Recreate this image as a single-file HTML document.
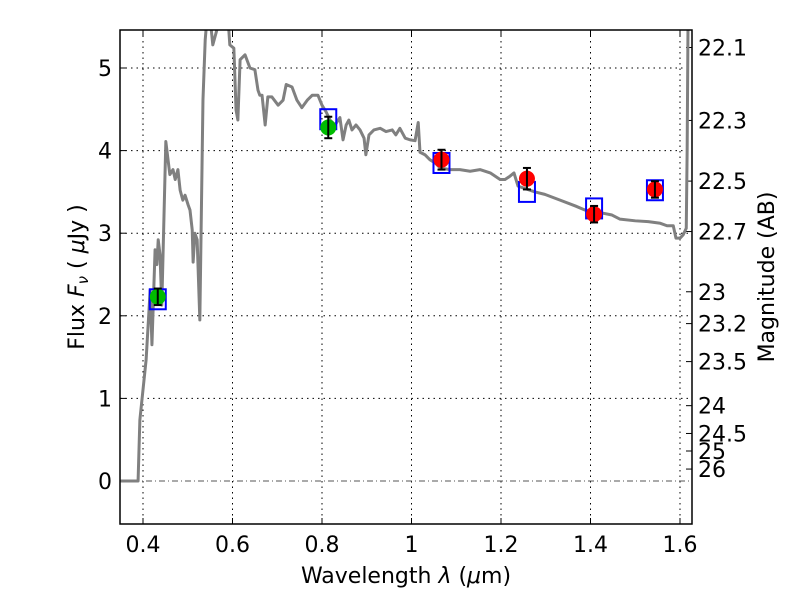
<!DOCTYPE html>
<html><head><meta charset="utf-8">
<style>html,body{margin:0;padding:0;background:#fff}svg{display:block;font-family:"DejaVu Sans","Liberation Sans",sans-serif}</style>
</head><body>
<svg id="chart" width="800" height="600"></svg>
<script>
const xTicks=[0.4,0.6,0.8,1.0,1.2,1.4,1.6];
const xTickLabels=["0.4","0.6","0.8","1","1.2","1.4","1.6"];
const yTicks=[0,1,2,3,4,5];
const magTicks=[22.1,22.3,22.5,22.7,23,23.2,23.5,24,24.5,25,26];
const sedLam=[0.35,0.389,0.393,0.407,0.416,0.420,0.427,0.431,0.434,0.438,0.442,0.451,0.460,0.467,0.472,0.478,0.483,0.489,0.494,0.501,0.505,0.510,0.512,0.516,0.521,0.527,0.534,0.539,0.543,0.550,0.556,0.572,0.590,0.594,0.603,0.608,0.612,0.617,0.628,0.639,0.650,0.657,0.661,0.666,0.673,0.679,0.688,0.702,0.713,0.720,0.733,0.744,0.755,0.767,0.778,0.791,0.800,0.809,0.818,0.829,0.840,0.847,0.854,0.860,0.867,0.876,0.885,0.894,0.898,0.905,0.916,0.930,0.943,0.957,0.965,0.974,0.986,0.997,1.008,1.015,1.019,1.030,1.041,1.053,1.064,1.086,1.108,1.131,1.153,1.176,1.198,1.209,1.220,1.229,1.238,1.254,1.276,1.298,1.332,1.366,1.388,1.421,1.448,1.466,1.500,1.529,1.556,1.571,1.585,1.591,1.600,1.607,1.614,1.616,1.618];
const sedFlux=[0,0,0.74,1.47,2.31,1.65,2.80,2.62,2.92,2.74,2.13,4.11,3.71,3.77,3.65,3.77,3.52,3.40,3.46,3.34,3.28,3.04,2.65,3.00,2.92,1.95,4.61,5.34,5.6,5.6,5.28,5.6,5.6,5.28,5.24,4.49,4.37,5.10,5.16,5.00,4.98,4.73,4.67,4.67,4.31,4.65,4.65,4.55,4.61,4.80,4.77,4.61,4.52,4.61,4.67,4.67,4.55,4.47,4.37,4.31,4.40,4.13,4.31,4.37,4.25,4.31,4.25,4.15,3.95,4.19,4.25,4.27,4.23,4.25,4.19,4.27,4.15,4.13,4.12,4.34,3.98,3.95,3.89,3.85,3.79,3.77,3.77,3.75,3.77,3.73,3.65,3.65,3.69,3.73,3.57,3.54,3.50,3.47,3.40,3.33,3.28,3.25,3.22,3.17,3.15,3.14,3.12,3.09,3.09,2.94,2.94,2.98,3.06,4.01,5.6];
const obsLam=[0.433,0.814,1.067,1.258,1.408,1.544];
const obsFlux=[2.23,4.28,3.89,3.66,3.23,3.53];
const obsErr=[0.1,0.13,0.12,0.13,0.1,0.1];
const obsColor=["#00bb00","#00bb00","red","red","red","red"];
const modelFlux=[2.2,4.38,3.85,3.5,3.3,3.52];

const L=120,R=692,T=30,B=524;
const X=v=>143+(v-0.4)*447.5;
const Y=v=>481-v*82.6;
const svg=document.getElementById('chart');
const NS='http://www.w3.org/2000/svg';
function mk(tag,attrs,parent){const e=document.createElementNS(NS,tag);for(const k in attrs)e.setAttribute(k,attrs[k]);(parent||svg).appendChild(e);return e;}

const clip=mk('clipPath',{id:'pc'});mk('rect',{x:L,y:T,width:R-L,height:B-T},clip);

xTicks.forEach((t,i)=>{
  const g=mk('line',{x1:X(t),x2:X(t),y1:T,y2:B,stroke:'#000','stroke-dasharray':'1.5,4','stroke-width':1});
  
  
  mk('line',{x1:X(t),x2:X(t),y1:B,y2:B-6,stroke:'#000'});mk('line',{x1:X(t),x2:X(t),y1:T,y2:T+6,stroke:'#000'});
  const tx=mk('text',{x:X(t),y:B+28,'text-anchor':'middle','font-size':22});tx.textContent=xTickLabels[i];
  
  
});
yTicks.forEach(t=>{
  if(t!==0){const g=mk('line',{x1:L,x2:R,y1:Y(t),y2:Y(t),stroke:'#000','stroke-dasharray':'1.5,4'});
  
  }
  mk('line',{x1:L,x2:L+6,y1:Y(t),y2:Y(t),stroke:'#000'});
  const tx=mk('text',{x:L-8,y:Y(t)+8,'text-anchor':'end','font-size':22});tx.textContent=t;
  
  
});
const zl=mk('line',{x1:L,x2:R,y1:Y(0),y2:Y(0),stroke:'#555','stroke-dasharray':'6,3,1,3','stroke-width':1});


magTicks.forEach(m=>{
  const y=Y(Math.pow(10,(23.9-m)/2.5));
  mk('line',{x1:R-6,x2:R,y1:y,y2:y,stroke:'#000'});
  const tx=mk('text',{x:R+6,y:y+8,'font-size':22});tx.textContent=m;
  
  
});

const sed=mk('polyline',{points:sedLam.map((l,i)=>X(l)+','+Y(sedFlux[i])).join(' '),fill:'none',stroke:'#808080','stroke-width':3,'clip-path':'url(#pc)','stroke-linejoin':'round'});



obsLam.forEach((l,i)=>{
  const x=X(l);
  const sq=mk('rect',{x:x-8,y:Y(modelFlux[i])-10,width:16,height:20,fill:'none',stroke:'#0000ff','stroke-width':2});
  
  
  const c=mk('circle',{cx:x,cy:Y(obsFlux[i]),r:8,fill:obsColor[i]});
  
  
  const y1=Y(obsFlux[i]+obsErr[i]),y2=Y(obsFlux[i]-obsErr[i]);
  mk('line',{x1:x,x2:x,y1:y1,y2:y2,stroke:'#000','stroke-width':2});
  mk('line',{x1:x-4,x2:x+4,y1:y1,y2:y1,stroke:'#000','stroke-width':2});
  mk('line',{x1:x-4,x2:x+4,y1:y2,y2:y2,stroke:'#000','stroke-width':2});
});

const fr=mk('rect',{x:L,y:T,width:R-L,height:B-T,fill:'none',stroke:'#000','stroke-width':1.5});



const xl=mk('text',{x:406,y:583,'text-anchor':'middle','font-size':22});
xl.innerHTML='Wavelength  <tspan font-style="italic">λ</tspan> (<tspan font-style="italic">μ</tspan>m)';


const yl=mk('text',{x:0,y:0,'text-anchor':'middle','font-size':22,'xml:space':'preserve',transform:'translate(84,277) rotate(-90)'});
yl.innerHTML='Flux  <tspan font-style="italic">F</tspan><tspan font-style="italic" font-size="15" dy="4">ν</tspan><tspan dy="-4">  (  </tspan><tspan font-style="italic">μ</tspan>Jy )';


const rl=mk('text',{x:0,y:0,'text-anchor':'middle','font-size':22,transform:'translate(774,277) rotate(-90)'});
rl.textContent='Magnitude (AB)';


</script>
</body></html>
